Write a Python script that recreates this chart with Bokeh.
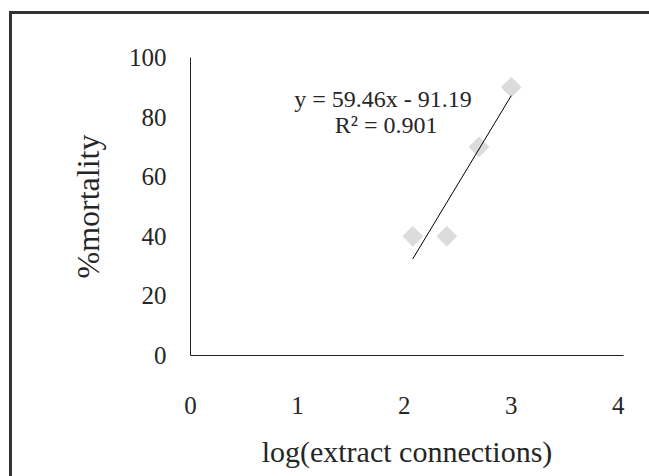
import math
from bokeh.plotting import figure
from bokeh.models import Label, FixedTicker, Range1d
from bokeh.embed import file_html
from bokeh.resources import INLINE

# data
log_conc = [2.079, 2.398, 2.699, 3.0]
mortality = [40, 40, 70, 90]
slope = 59.46
intercept = -91.19
r2 = 0.901
x_ticks = [0, 1, 2, 3, 4]
y_ticks = [0, 20, 40, 60, 80, 100]

FONT = "Liberation Serif"
TXT = "#262626"

frame_css = ("linear-gradient(#333333,#333333) 9px 11px / 3px 600px no-repeat, "
             "linear-gradient(#333333,#333333) 9px 11px / 700px 3px no-repeat, white")

p = figure(width=649, height=476, output_backend="svg", toolbar_location=None,
           x_range=Range1d(0, 4.05), y_range=Range1d(0, 100),
           min_border_left=190, min_border_right=26, min_border_top=57, min_border_bottom=121,
           styles={"background": frame_css})
p.outline_line_color = None
p.grid.visible = False
p.background_fill_color = None
p.border_fill_color = None

for ax in (p.xaxis[0], p.yaxis[0]):
    ax.major_tick_line_color = None
    ax.minor_tick_line_color = None
    ax.major_tick_out = 0
    ax.major_tick_in = 0
    ax.minor_tick_out = 0
    ax.axis_line_color = "#222222"
    ax.axis_line_width = 1
    ax.major_label_text_font = FONT
    ax.major_label_text_font_size = "25px"
    ax.major_label_text_color = TXT
    ax.axis_label_text_font = FONT
    ax.axis_label_text_font_size = "30px"
    ax.axis_label_text_font_style = "normal"
    ax.axis_label_text_color = TXT

p.yaxis.axis_label_text_font_size = "32px"
p.xaxis.ticker = FixedTicker(ticks=x_ticks)
p.yaxis.ticker = FixedTicker(ticks=y_ticks)
p.xaxis.major_label_standoff = 41
p.yaxis.major_label_standoff = 24
p.xaxis.axis_label = "log(extract connections)"
p.yaxis.axis_label = "%mortality"
p.xaxis.axis_label_standoff = 18
p.yaxis.axis_label_standoff = 20

p.scatter(log_conc, mortality, marker="square", angle=math.pi / 4, size=14,
          fill_color="#dcdcdc", line_color="#dcdcdc")

xs = [min(log_conc), max(log_conc)]
p.line(xs, [slope * x + intercept for x in xs], line_color="black", line_width=1)

p.add_layout(Label(x=1.8, y=86.2, text=f"y = {slope}x - {abs(intercept)}", text_align="center",
                   text_baseline="middle", text_font=FONT, text_font_size="24px",
                   text_color=TXT))
p.add_layout(Label(x=1.83, y=77.5, text=f"R² = {r2}", text_align="center",
                   text_baseline="middle", text_font=FONT, text_font_size="24px",
                   text_color=TXT))

open("out.html", "w").write(file_html(p, INLINE))
